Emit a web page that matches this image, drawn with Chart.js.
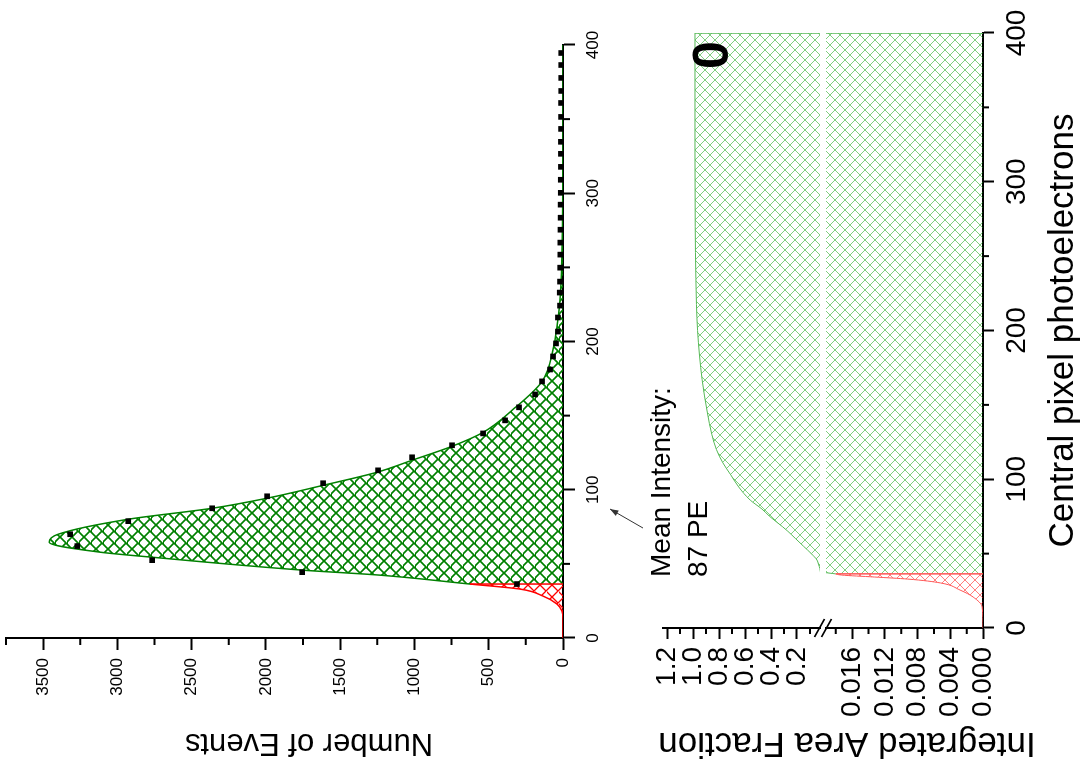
<!DOCTYPE html>
<html>
<head>
<meta charset="utf-8">
<script src="https://cdn.jsdelivr.net/npm/chart.js@4.4.0/dist/chart.umd.min.js"></script>
<style>
  html, body { margin: 0; padding: 0; background: #fff; overflow: hidden; width: 1088px; height: 765px; }
  /* the figure is drawn upright and turned a quarter turn, as in the scan */
  #wrap { position: absolute; left: 0; top: 0; width: 765px; height: 1088px;
          transform-origin: 0 0; transform: translate(0, 765px) rotate(-90deg); }
  #wrap canvas { position: absolute; left: 0; top: 0; }
</style>
</head>
<body>
<div id="wrap">
  <canvas id="cTop" width="765" height="1088"></canvas>
  <canvas id="cHigh" width="765" height="1088"></canvas>
  <canvas id="cLow" width="765" height="1088"></canvas>
</div>
<script>
const FONT = 'Arial, "Liberation Sans", Helvetica, sans-serif';
Chart.defaults.font.family = FONT;
Chart.defaults.color = '#000';

// tick labels
const peTicks = [0, 100, 200, 300, 400];
const eventTicks = [0, 500, 1000, 1500, 2000, 2500, 3000, 3500];
const fracLowTicks = [0, 0.004, 0.008, 0.012, 0.016];
const fracHighTicks = [0.2, 0.4, 0.6, 0.8, 1.0, 1.2];

// top panel: measured spectrum (squares)
const dataPE = [36.4, 44.4, 52.5, 62.0, 70.0, 78.8, 87.5, 95.6, 104.4, 113.1, 121.9, 130.0, 138.0, 146.8,
  155.6, 164.3, 173.1, 181.1, 189.9, 198.7, 206.7, 216.2, 224.2, 233.0, 240.4, 249.8, 258.6, 266.7,
  275.4, 283.5, 292.3, 300.3, 309.1, 317.8, 326.6, 334.7, 343.4, 351.5, 360.9, 369.0, 377.8, 386.5, 394.6];
const dataEvents = [310, 1756, 2766, 3270, 3318, 2927, 2362, 1992, 1615, 1245, 1016, 747, 538, 390,
  296, 188, 141, 87, 67, 47, 34, 34, 20, 22, 20, 19, 18, 18,
  17, 16, 16, 15, 15, 14, 14, 14, 13, 13, 13, 12, 12, 12, 12];

// top panel: fitted curve
const fitPE = [0, 12.8, 18.2, 22.9, 28.3, 33.0, 36.4, 42.4, 45.8, 54.5, 57.9, 64.6, 70.0, 80.1, 87.5,
  94.3, 103.0, 111.8, 119.9, 129.3, 138.7, 154.2, 173.1, 194.6, 228.3, 262, 300, 400];
const fitEvents = [0, 0, 7, 40, 135, 289, 626, 1232, 1756, 2766, 3116, 3459, 3399, 2927, 2362,
  1992, 1615, 1252, 1016, 747, 538, 336, 141, 67, 20, 7, 2, 0];

// bottom panel: integrated area fraction of the fit
const fracPE = [0, 14.1, 20.8, 25.5, 30.3, 32.9, 34.3, 35.6, 36.4, 40, 43, 45.7, 50, 55, 60, 65, 68,
  75, 80, 86, 95, 103, 111, 120, 130, 145, 167, 200, 235, 270, 320, 400];
const fracVal = [0, 0.0001, 0.0012, 0.0028, 0.0052, 0.0092, 0.0133, 0.0173, 0.018, 0.024, 0.035, 0.046,
  0.09, 0.15, 0.21, 0.27, 0.31, 0.41, 0.47, 0.56, 0.65, 0.71, 0.77, 0.82, 0.855, 0.89, 0.93, 0.965,
  0.978, 0.983, 0.985, 0.985];

const threshold = 36.4;   // cut between red and green areas
const meanPE = 87;        // mean intensity

const xy = (xs, ys) => xs.map((x, i) => ({ x, y: ys[i] }));
const fitPts = xy(fitPE, fitEvents);
const fracPts = xy(fracPE, fracVal);
const below = pts => pts.filter(p => p.x <= threshold);
const above = pts => pts.filter(p => p.x >= threshold);
const fitCut = fitEvents[fitPE.indexOf(threshold)];
const fracCut = fracVal[fracPE.indexOf(threshold)];
const fracEnd = fracVal[fracVal.length - 1];
const useTicks = list => s => { s.ticks = list.map(value => ({ value })); };

function hatch(color, size, width) {
  const c = document.createElement('canvas');
  c.width = c.height = size;
  const g = c.getContext('2d');
  g.strokeStyle = color;
  g.lineWidth = width;
  g.beginPath();
  for (const k of [-size, 0, size]) {
    g.moveTo(k, 0); g.lineTo(k + size, size);
    g.moveTo(k + size, 0); g.lineTo(k, size);
  }
  g.stroke();
  return g.createPattern(c, 'repeat');
}

// short ticks half way between the labelled ones
const minorTicks = {
  id: 'minorTicks',
  afterDraw(chart, args, opts) {
    const ctx = chart.ctx;
    ctx.save();
    ctx.strokeStyle = '#000';
    ctx.lineWidth = 2;
    ctx.beginPath();
    for (const id of Object.keys(opts.steps || {})) {
      const s = chart.scales[id];
      const step = opts.steps[id];
      for (let i = Math.ceil(s.min / step - 1e-9); i * step <= s.max + 1e-9; i++) {
        if (i % 2 === 0) continue;
        const p = s.getPixelForValue(i * step);
        if (s.isHorizontal()) { ctx.moveTo(p, s.top); ctx.lineTo(p, s.top + opts.len); }
        else { ctx.moveTo(s.right, p); ctx.lineTo(s.right - opts.len, p); }
      }
    }
    ctx.stroke();
    ctx.restore();
  }
};

function vtext(ctx, text, x, y, font) {
  ctx.save();
  ctx.translate(x, y);
  ctx.rotate(-Math.PI / 2);
  ctx.font = font;
  ctx.textAlign = 'center';
  ctx.textBaseline = 'middle';
  ctx.fillText(text, 0, 0);
  ctx.restore();
}

const blackAxis = (tickLength) => ({
  grid: { drawOnChartArea: false, tickLength, tickWidth: 2, tickColor: '#000' },
  border: { color: '#000', width: 2 }
});

const topNotes = {
  id: 'topNotes',
  afterDraw(chart) {
    const ctx = chart.ctx;
    const x = chart.scales.x;
    ctx.save();
    ctx.fillStyle = '#000';
    vtext(ctx, 'Number of Events', 22, 309, '31px ' + FONT);
    ctx.font = '28px ' + FONT;
    ctx.textAlign = 'left';
    ctx.fillText('Mean Intensity:', 188, 670);
    ctx.fillText('87 PE', 188, 707);
    // arrow to the mean
    const tx = x.getPixelForValue(meanPE), ty = x.top + 47;
    const sx = tx - 19, sy = ty + 33;
    const a = Math.atan2(ty - sy, tx - sx);
    ctx.strokeStyle = '#333';
    ctx.fillStyle = '#333';
    ctx.lineWidth = 1;
    ctx.beginPath(); ctx.moveTo(sx, sy); ctx.lineTo(tx, ty); ctx.stroke();
    ctx.beginPath();
    ctx.moveTo(tx, ty);
    ctx.lineTo(tx - 9 * Math.cos(a - 0.35), ty - 9 * Math.sin(a - 0.35));
    ctx.lineTo(tx - 9 * Math.cos(a + 0.35), ty - 9 * Math.sin(a + 0.35));
    ctx.closePath(); ctx.fill();
    ctx.restore();
  }
};

new Chart(document.getElementById('cTop'), {
  type: 'line',
  data: {
    datasets: [
      { data: xy(dataPE, dataEvents), showLine: false, pointStyle: 'rect', pointRadius: 4,
        pointBackgroundColor: '#000', pointBorderWidth: 0, order: 0 },
      { data: [{ x: threshold, y: 0 }, { x: threshold, y: fitCut }], borderColor: '#ff0000',
        borderWidth: 1.5, pointRadius: 0, order: 1 },
      { data: above(fitPts), borderColor: '#008000', borderWidth: 1.5, pointRadius: 0,
        cubicInterpolationMode: 'monotone', fill: 'origin',
        backgroundColor: hatch('#008000', 12, 1.6), order: 2 },
      { data: below(fitPts), borderColor: '#ff0000', borderWidth: 1.5, pointRadius: 0,
        cubicInterpolationMode: 'monotone', fill: 'origin',
        backgroundColor: hatch('#ff0000', 12, 1.3), order: 3 }
    ]
  },
  options: {
    responsive: false, animation: false, devicePixelRatio: 1,
    layout: { padding: { top: 6, right: 45, left: 0, bottom: 0 } },
    plugins: { legend: { display: false }, tooltip: { enabled: false },
               minorTicks: { steps: { x: 50, y: 250 }, len: 7 } },
    scales: {
      x: { type: 'linear', min: 0, max: 400,
           ticks: { font: { size: 17 }, padding: 8, maxRotation: 0, autoSkip: false },
           ...blackAxis(12),
           afterBuildTicks: useTicks(peTicks),
           afterFit: s => { s.height = 525; s.paddingLeft = 0; s.paddingRight = 0; } },
      y: { min: 0, max: 3750,
           ticks: { font: { size: 17 }, padding: 8, autoSkip: false, callback: v => String(v) },
           ...blackAxis(12),
           afterBuildTicks: useTicks(eventTicks),
           afterFit: s => { s.width = 127; s.paddingTop = 0; s.paddingBottom = 0; } }
    }
  },
  plugins: [minorTicks, topNotes]
});

const lightGreen = '#55b855';
const greenHatch = hatch('rgba(0,160,0,0.5)', 10, 1);
const redHatch = hatch('rgba(255,0,0,0.5)', 10, 1);

// upper piece of the broken fraction axis
new Chart(document.getElementById('cHigh'), {
  type: 'line',
  data: {
    datasets: [
      { data: [{ x: 400, y: 0 }, { x: 400, y: fracEnd }], borderColor: lightGreen, borderWidth: 1.5,
        pointRadius: 0 },
      { data: above(fracPts), borderColor: lightGreen, borderWidth: 1, pointRadius: 0,
        cubicInterpolationMode: 'monotone', fill: 'origin', backgroundColor: greenHatch }
    ]
  },
  options: {
    responsive: false, animation: false, devicePixelRatio: 1,
    layout: { padding: { top: 663, right: 33, left: 0, bottom: 268 } },
    plugins: { legend: { display: false }, tooltip: { enabled: false },
               minorTicks: { steps: { y: 0.1 }, len: 6 } },
    scales: {
      x: { type: 'linear', min: 0, max: 400, display: false },
      y: { min: 0.023, max: 1.231,
           ticks: { font: { size: 28 }, padding: 8, autoSkip: false, callback: v => v.toFixed(1) },
           ...blackAxis(11),
           afterBuildTicks: useTicks(fracHighTicks),
           afterFit: s => { s.width = 137; s.paddingTop = 0; s.paddingBottom = 0; } }
    }
  },
  plugins: [minorTicks]
});

const lowNotes = {
  id: 'lowNotes',
  afterDraw(chart) {
    const ctx = chart.ctx;
    const y = chart.scales.y;
    ctx.save();
    ctx.fillStyle = '#000';
    vtext(ctx, 'Integrated Area Fraction', 22, 847, '35px ' + FONT);
    ctx.font = '35px ' + FONT;
    ctx.textAlign = 'center';
    ctx.textBaseline = 'middle';
    ctx.fillText('Central pixel photoelectrons', (chart.chartArea.left + chart.chartArea.right) / 2, 1063);
    ctx.font = 'bold 50px ' + FONT;
    ctx.fillText('0', 710, 714);
    // axis break marks
    const bx = y.right, by = y.top - 3;
    ctx.strokeStyle = '#000';
    ctx.lineWidth = 1.5;
    ctx.beginPath();
    for (const d of [-3.5, 3.5]) {
      ctx.moveTo(bx - 9, by + d - 5);
      ctx.lineTo(bx + 9, by + d + 5);
    }
    ctx.stroke();
    ctx.restore();
  }
};

// lower piece of the broken fraction axis, with the photoelectron axis
new Chart(document.getElementById('cLow'), {
  type: 'line',
  data: {
    datasets: [
      { data: [{ x: threshold, y: 0 }, { x: threshold, y: fracCut }], borderColor: '#ff5555',
        borderWidth: 1.5, pointRadius: 0 },
      { data: [{ x: 400, y: 0 }, { x: 400, y: fracEnd }], borderColor: lightGreen, borderWidth: 1.5,
        pointRadius: 0 },
      { data: above(fracPts), borderColor: lightGreen, borderWidth: 1, pointRadius: 0,
        cubicInterpolationMode: 'monotone', fill: 'origin', backgroundColor: greenHatch },
      { data: below(fracPts), borderColor: '#ff5555', borderWidth: 1, pointRadius: 0,
        cubicInterpolationMode: 'monotone', fill: 'origin', backgroundColor: redHatch }
    ]
  },
  options: {
    responsive: false, animation: false, devicePixelRatio: 1,
    layout: { padding: { top: 826, right: 33, left: 0, bottom: 0 } },
    plugins: { legend: { display: false }, tooltip: { enabled: false },
               minorTicks: { steps: { x: 50, y: 0.002 }, len: 6 } },
    scales: {
      x: { type: 'linear', min: 0, max: 400,
           ticks: { font: { size: 28 }, padding: 6, maxRotation: 0, autoSkip: false },
           ...blackAxis(11),
           afterBuildTicks: useTicks(peTicks),
           afterFit: s => { s.height = 105; s.paddingLeft = 0; s.paddingRight = 0; } },
      y: { min: 0, max: 0.0192,
           ticks: { font: { size: 28 }, padding: 8, autoSkip: false, callback: v => v.toFixed(3) },
           ...blackAxis(11),
           afterBuildTicks: useTicks(fracLowTicks),
           afterFit: s => { s.width = 137; s.paddingTop = 0; s.paddingBottom = 0; } }
    }
  },
  plugins: [minorTicks, lowNotes]
});
</script>
</body>
</html>
